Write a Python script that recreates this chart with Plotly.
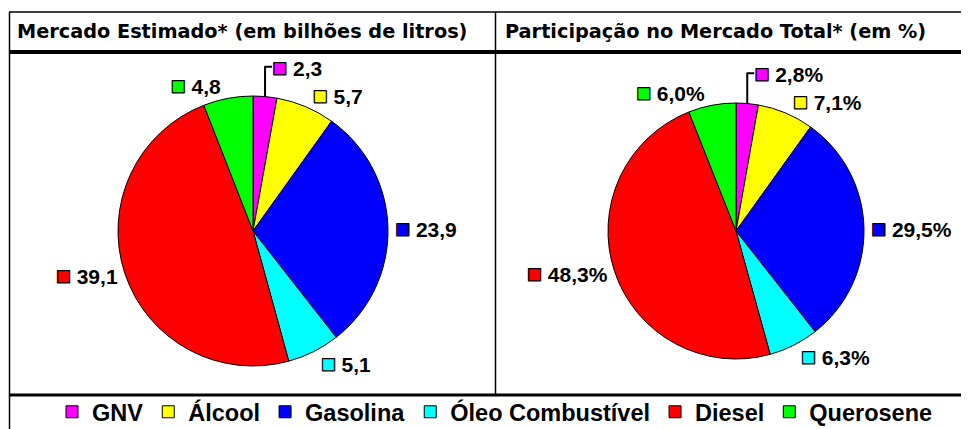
import plotly.graph_objects as go

categories = ["GNV", "Álcool", "Gasolina", "Óleo Combustível", "Diesel", "Querosene"]
volume_bi_litros = [2.3, 5.7, 23.9, 5.1, 39.1, 4.8]
participacao_pct = [2.8, 7.1, 29.5, 6.3, 48.3, 6.0]
colors = ["#FF00FF", "#FFFF00", "#0000FF", "#00FFFF", "#FF0000", "#00FF00"]
titles = ["Mercado Estimado* (em bilhões de litros)", "Participação no Mercado Total* (em %)"]

# the page body has an 8px margin; figure fills the rest of the 969x429 window
OFF = 8
W, H = 969 - OFF, 429 - OFF

def px(x): return (x - OFF) / W
def py(y): return 1 - (y - OFF) / H

def key(c):
    return f"<span style='color:{c};font-size:25px;stroke:#000;stroke-width:1.2px'>■</span>"

fig = go.Figure()
label_font = dict(family="Liberation Sans, Arial", size=21, color="black", weight="bold")

fig.add_trace(go.Pie(
    labels=categories, values=volume_bi_litros, sort=False, direction="clockwise", rotation=0,
    marker=dict(colors=colors, line=dict(color="black", width=1)),
    text=[key(c) for c in colors],
    texttemplate="%{text} %{value:.1f}", textposition="outside",
    outsidetextfont=label_font, domain=dict(x=[px(118), px(388)], y=[py(370), py(92)]),
    showlegend=True, hoverinfo="label+value",
))
fig.add_trace(go.Pie(
    labels=categories, values=participacao_pct, sort=False, direction="clockwise", rotation=0,
    marker=dict(colors=colors, line=dict(color="black", width=1)),
    text=[key(c) for c in colors],
    texttemplate="%{text} %{value:.1f}%", textposition="outside",
    outsidetextfont=label_font, domain=dict(x=[px(608), px(864)], y=[py(362), py(100)]),
    showlegend=False, hoverinfo="label+value",
))

shapes = [
    dict(type="line", x0=px(9), x1=1, y0=py(12), y1=py(12), line=dict(color="black", width=1.5)),
    dict(type="line", x0=px(9), x1=1, y0=py(52), y1=py(52), line=dict(color="black", width=4)),
    dict(type="line", x0=px(9), x1=1, y0=py(395), y1=py(395), line=dict(color="black", width=3)),
    dict(type="line", x0=px(9.5), x1=px(9.5), y0=py(12), y1=0, line=dict(color="black", width=1.5)),
    dict(type="line", x0=px(495.5), x1=px(495.5), y0=py(12), y1=py(395), line=dict(color="black", width=1.5)),
]
for s in shapes:
    s.update(xref="paper", yref="paper")

annotations = [
    dict(text=f"<b>{titles[0]}</b>", x=px(15), y=py(32), xanchor="left", yanchor="middle"),
    dict(text=f"<b>{titles[1]}</b>", x=px(503), y=py(32), xanchor="left", yanchor="middle"),
]
for a in annotations:
    a.update(xref="paper", yref="paper", showarrow=False,
             font=dict(family="DejaVu Sans, Verdana", size=19.3, color="black"))

fig.update_layout(
    width=W, height=H, margin=dict(l=0, r=0, t=0, b=0, autoexpand=False),
    paper_bgcolor="white", plot_bgcolor="white",
    separators=",.",
    shapes=shapes, annotations=annotations,
    legend=dict(orientation="h", x=px(495), xanchor="center", y=py(412), yanchor="middle",
                font=dict(family="Liberation Sans, Arial", size=23.5, color="black", weight="bold"),
                itemwidth=30, tracegroupgap=0, bgcolor="rgba(0,0,0,0)"),
)
fig.write_html("out.html")
